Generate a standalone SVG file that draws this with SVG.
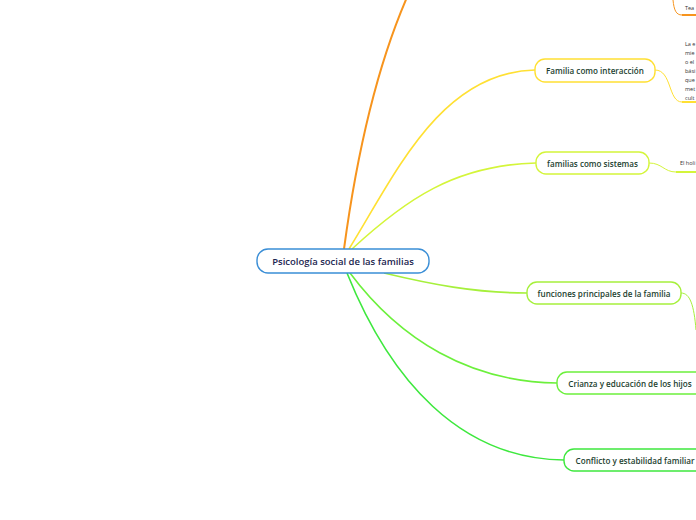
<svg xmlns="http://www.w3.org/2000/svg" width="696" height="520" viewBox="0 0 696 520">
<style>
.node rect{fill:#fff;stroke-width:1.4}
.t{font-family:"Open Sans","Liberation Sans",sans-serif;font-size:8.1px;font-weight:600;fill:#1d3f30;text-anchor:middle;dominant-baseline:central}
.c{font-family:"Open Sans","Liberation Sans",sans-serif;font-size:9.5px;font-weight:600;fill:#1b2550;text-anchor:middle;dominant-baseline:central}
.s{font-family:"Open Sans","Liberation Sans",sans-serif;font-size:5.5px;fill:#333}
.conn path{fill:none}
</style>
<rect width="696" height="520" fill="#fff"/>
<g id="connectors" class="conn">
<path d="M344,249 C 356,160 375,70 408,-5" stroke="#f7941d" stroke-width="2"/>
<path d="M349,249 C 395,175 440,72 535,70" stroke="#ffe033" stroke-width="1.6"/>
<path d="M352,249 C 405,200 455,165 536,163" stroke="#d4f53a" stroke-width="1.6"/>
<path d="M384,273 C 430,284 475,293 527,293" stroke="#a6f03c" stroke-width="1.6"/>
<path d="M350,273 C 400,340 470,382 557,383" stroke="#6cf03c" stroke-width="1.6"/>
<path d="M347,273 C 390,380 460,459 564,460" stroke="#3ee83e" stroke-width="1.6"/>
<path d="M673,0 C 674,10 676,15 682,15" stroke="#f7941d" stroke-width="1"/>
<path d="M682,15 H696" stroke="#f7941d" stroke-width="2"/>
<path d="M655,70 C 672,70 668,102 682,102" stroke="#ffe033" stroke-width="1"/>
<path d="M682,102 H696" stroke="#ffe033" stroke-width="2"/>
<path d="M649,163 C 662,163 664,172 676,172" stroke="#d4f53a" stroke-width="1"/>
<path d="M676,172 H696" stroke="#d4f53a" stroke-width="2"/>
<path d="M681,293 C 690,293 694,305 696,330" stroke="#a6f03c" stroke-width="1"/>
</g>
<g id="central" class="node">
<rect x="257" y="249" width="172" height="24" rx="11" stroke="#3a8ed6"/>
<text class="c" x="343" y="261">Psicología social de las familias</text>
</g>
<g id="n1" class="node">
<rect x="535" y="59" width="120" height="23" rx="10" stroke="#ffe033"/>
<text class="t" x="595" y="70.5">Familia como interacción</text>
</g>
<g id="n2" class="node">
<rect x="536" y="152" width="113" height="22" rx="10" stroke="#d4f53a"/>
<text class="t" x="592.5" y="163">familias como sistemas</text>
</g>
<g id="n3" class="node">
<rect x="527" y="282" width="154" height="22" rx="10" stroke="#a6f03c"/>
<text class="t" x="604" y="293">funciones principales de la familia</text>
</g>
<g id="n4" class="node">
<rect x="557" y="372" width="150" height="22" rx="10" stroke="#6cf03c"/>
<text class="t" x="630" y="383">Crianza y educación de los hijos</text>
</g>
<g id="n5" class="node">
<rect x="564" y="449" width="145" height="22" rx="10" stroke="#3ee83e"/>
<text class="t" x="635" y="460">Conflicto y estabilidad familiar</text>
</g>
<g id="sub1"><text class="s" x="685" y="10">Tea</text></g>
<g id="sub2">
<text class="s" x="685" y="46">La e</text>
<text class="s" x="685" y="55">mie</text>
<text class="s" x="685" y="64">o el</text>
<text class="s" x="685" y="73">bási</text>
<text class="s" x="685" y="82">que</text>
<text class="s" x="685" y="91">met</text>
<text class="s" x="685" y="100">cult</text>
</g>
<g id="sub3"><text class="s" x="680" y="165">El holi</text></g>
</svg>
